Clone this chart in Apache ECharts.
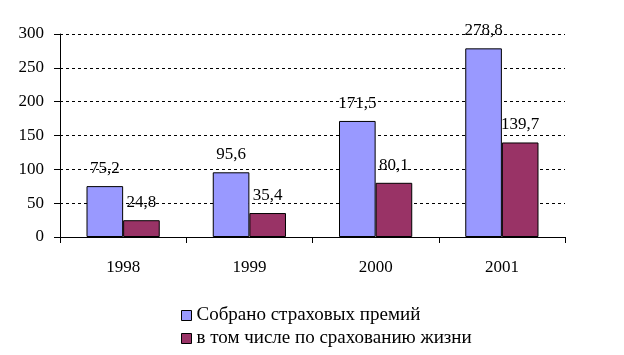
<!DOCTYPE html>
<html><head><meta charset="utf-8">
<script src="https://cdn.jsdelivr.net/npm/echarts@6/dist/echarts.min.js"></script>
<style>html,body{margin:0;padding:0;background:#fff}#c{width:624px;height:355px}</style>
</head><body><div id="c"></div>
<script>
const categories = ['1998', '1999', '2000', '2001'];
const premiums = [75.2, 95.6, 171.5, 278.8];
const lifeIns = [24.8, 35.4, 80.1, 139.7];
const seriesNames = ['Собрано страховых премий', 'в том числе по срахованию жизни'];
const font = 'Liberation Serif';
const fmt = p => String(p.value).replace('.', ',');
const chart = echarts.init(document.getElementById('c'));
chart.setOption({
  animation: false,
  backgroundColor: '#fff',
  grid: {left: 60, right: 59, top: 34, bottom: 118, containLabel: false},
  legend: {
    orient: 'vertical', left: 176, top: 301, itemWidth: 10, itemHeight: 10, itemGap: 4,
    textStyle: {fontFamily: font, fontSize: 19, color: '#000'},
    data: seriesNames.map(n => ({name: n, icon: 'rect', itemStyle: {borderColor: '#000', borderWidth: 1}}))
  },
  xAxis: {
    type: 'category', data: categories,
    axisLine: {lineStyle: {color: '#000', width: 1}},
    axisTick: {show: true, length: 6, lineStyle: {color: '#000'}, alignWithLabel: false},
    axisLabel: {fontFamily: font, fontSize: 17, color: '#000', margin: 22}
  },
  yAxis: {
    type: 'value', min: 0, max: 300, interval: 50,
    axisLine: {show: true, lineStyle: {color: '#000', width: 1}},
    axisTick: {show: true, length: 6, lineStyle: {color: '#000'}},
    axisLabel: {fontFamily: font, fontSize: 17, color: '#000', margin: 16},
    splitLine: {lineStyle: {color: '#000', type: [3, 3], width: 1}}
  },
  series: [
    {name: seriesNames[0], type: 'bar', data: premiums, barGap: '0%', barCategoryGap: '42%',
     itemStyle: {color: '#9999FF', borderColor: '#000', borderWidth: 1},
     label: {show: true, position: 'top', distance: 9, formatter: fmt, fontFamily: font, fontSize: 17, color: '#000'}},
    {name: seriesNames[1], type: 'bar', data: lifeIns, barGap: '0%', barCategoryGap: '42%',
     itemStyle: {color: '#993366', borderColor: '#000', borderWidth: 1},
     label: {show: true, position: 'top', distance: 9, formatter: fmt, fontFamily: font, fontSize: 17, color: '#000'}}
  ]
});
</script></body></html>
